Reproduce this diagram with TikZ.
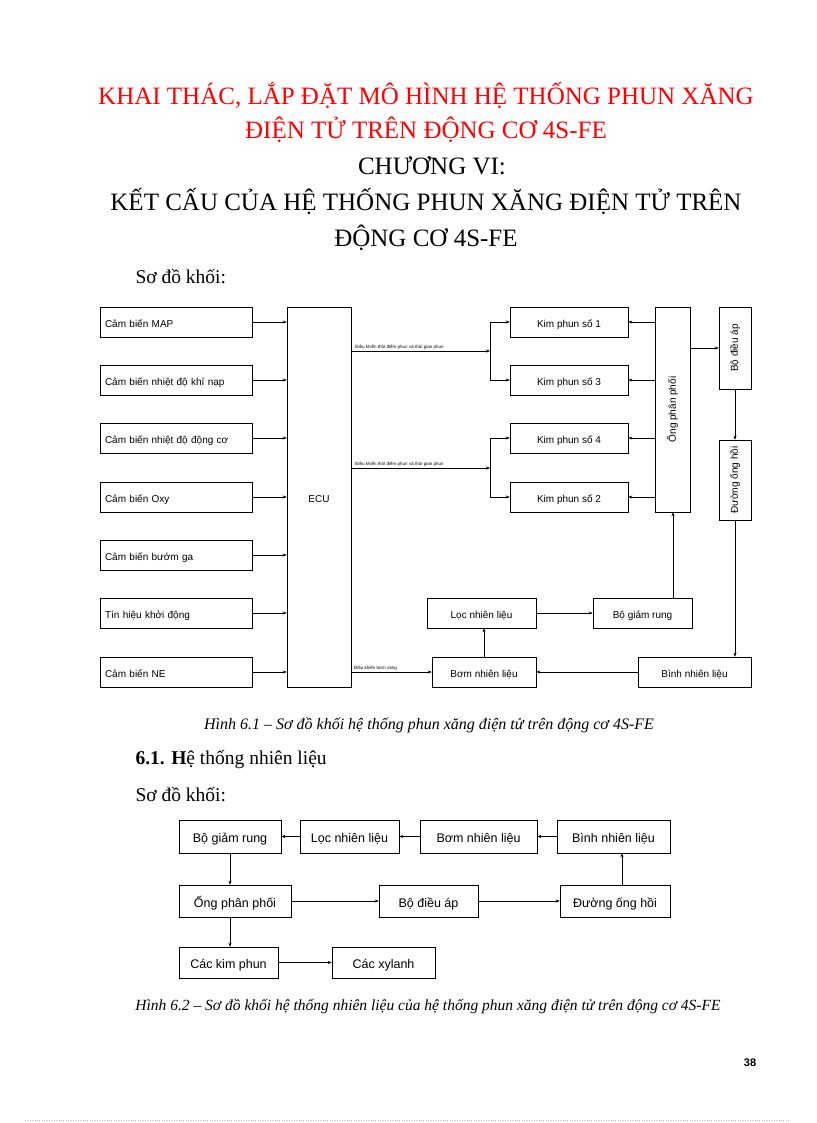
\documentclass[tikz,border=0pt]{standalone}
\usepackage{fontspec}
\setmainfont{Liberation Serif}
\newfontfamily\dia{Liberation Sans}
\usetikzlibrary{arrows.meta}
\begin{document}
\begin{tikzpicture}[x=1pt,y=-1pt,
  bx/.style={draw,line width=0.6pt,inner sep=0pt,text height=10pt,text depth=0pt,font=\dia\fontsize{10}{11}\selectfont},
  bv/.style={draw,line width=0.6pt,inner sep=0pt,font=\dia\fontsize{10}{11}\selectfont},
  bb/.style={draw,line width=0.6pt,inner sep=0pt,text height=12pt,text depth=0pt,font=\dia\fontsize{12.5}{14}\selectfont},
  ar/.style={-{Stealth[length=4pt,width=3pt]},line width=0.4pt},
  lab/.style={font=\dia\fontsize{4.5}{5}\selectfont,inner sep=1pt,anchor=south west}]
\useasboundingbox (0,0) rectangle (816,1123);
% headings
\node[text=red,font=\fontsize{25}{28}\selectfont] (t1) at (426,95) {KHAI THÁC, LẮP ĐẶT MÔ HÌNH HỆ THỐNG PHUN XĂNG};
\node[text=red,font=\fontsize{25}{28}\selectfont] (t2) at (426,130) {ĐIỆN TỬ TRÊN ĐỘNG CƠ 4S-FE};
\node[font=\fontsize{25}{28}\selectfont] (t3) at (432,166) {CHƯƠNG VI:};
\node[font=\fontsize{25}{28}\selectfont] (t4) at (426,201) {KẾT CẤU CỦA HỆ THỐNG PHUN XĂNG ĐIỆN TỬ TRÊN};
\node[font=\fontsize{25}{28}\selectfont] (t5) at (426,238) {ĐỘNG CƠ 4S-FE};
\node[anchor=west,font=\fontsize{19.5}{22}\selectfont] (s1) at (132,277) {Sơ đồ khối:};
% left sensors
\foreach \n/\y/\t in {a/322/Cảm biến MAP, b/380/Cảm biến nhiệt độ khí nạp, c/438/Cảm biến nhiệt độ động cơ, d/497/Cảm biến Oxy, e/555/Cảm biến bướm ga, f/613/Tín hiệu khởi động, g/672/Cảm biến NE}
  \node[bx,minimum width=152,minimum height=30,text width=142,align=left] (\n) at (176,\y) {\t};
\node[bx,minimum width=64,minimum height=380] (ecu) at (319,497) {ECU};
\foreach \n in {a,b,c,d,e,f,g} \draw[ar] (\n.east) -- (\n.east -| ecu.west);
% injectors
\foreach \n/\y/\t in {k1/322/Kim phun số 1, k3/380/Kim phun số 3, k4/438/Kim phun số 4, k2/497/Kim phun số 2}
  \node[bx,minimum width=118,minimum height=30] (\n) at (569,\y) {\t};
\node[bv,minimum width=35,minimum height=205] (ong) at (672.5,409.5) {\rotatebox{90}{Ống phân phối}};
\node[bv,minimum width=32,minimum height=82] (dieu) at (735,348) {\rotatebox{90}{Bộ điều áp}};
\node[bv,minimum width=32,minimum height=80] (hoi) at (735,480) {\rotatebox{90}{Đường ống hồi}};
\node[bx,minimum width=109,minimum height=30] (loc) at (481.5,613) {Lọc nhiên liệu};
\node[bx,minimum width=99,minimum height=30] (giam) at (642.5,613) {Bộ giảm rung};
\node[bx,minimum width=104,minimum height=30] (bom) at (484,672) {Bơm nhiên liệu};
\node[bx,minimum width=113,minimum height=30] (binh) at (694.5,672) {Bình nhiên liệu};
\coordinate (j1) at (490,351);
\coordinate (j2) at (490,468);
\draw[ar] (ecu.east |- j1) -- node[lab,pos=0.02]{Điều khiển thời điểm phun và thời gian phun} (j1);
\draw[ar] (j1) |- (k1.west);
\draw[ar] (j1) |- (k3.west);
\draw[ar] (ecu.east |- j2) -- node[lab,pos=0.02]{Điều khiển thời điểm phun và thời gian phun} (j2);
\draw[ar] (j2) |- (k4.west);
\draw[ar] (j2) |- (k2.west);
\draw[ar] (ecu.east |- bom.west) -- node[lab,pos=0.02]{Điều khiển bơm xăng} (bom.west);
\foreach \n in {k1,k3,k4,k2} \draw[ar] (\n.east -| ong.west) -- (\n.east);
\draw[ar] (ong.east |- dieu.west) -- (dieu.west);
\draw[ar] (dieu.south) -- (hoi.north);
\draw[ar] (hoi.south) -- (hoi.south |- binh.north);
\draw[ar] (binh.west) -- (bom.east);
\draw[ar] (bom.north) -- (bom.north |- loc.south);
\draw[ar] (loc.east) -- (giam.west);
\draw[ar] (giam.north -| 673,0) -- (ong.south -| 673,0);
\node[font=\itshape\fontsize{16}{18}\selectfont] (c1) at (429,725) {Hình 6.1 – Sơ đồ khối hệ thống phun xăng điện tử trên động cơ 4S-FE};
\node[anchor=west,font=\fontsize{19.5}{22}\selectfont] (h61) at (132,760) {\textbf{6.1. H}ệ thống nhiên liệu};
\node[anchor=west,font=\fontsize{19.5}{22}\selectfont] (s2) at (132,795) {Sơ đồ khối:};
% second diagram
\node[bb,minimum width=102,minimum height=33] (B1) at (230,836.5) {Bộ giảm rung};
\node[bb,minimum width=99,minimum height=33] (B2) at (349.5,836.5) {Lọc nhiên liệu};
\node[bb,minimum width=117,minimum height=33] (B3) at (478.5,836.5) {Bơm nhiên liệu};
\node[bb,minimum width=113,minimum height=33] (B4) at (613.5,836.5) {Bình nhiên liệu};
\node[bb,minimum width=112,minimum height=32] (B5) at (235,901) {Ống phân phối};
\node[bb,minimum width=99,minimum height=32] (B6) at (428.5,901) {Bộ điều áp};
\node[bb,minimum width=110,minimum height=32] (B7) at (615,901) {Đường ống hồi};
\node[bb,minimum width=99,minimum height=31] (B8) at (228.5,962.5) {Các kim phun};
\node[bb,minimum width=103,minimum height=31] (B9) at (383.5,962.5) {Các xylanh};
\draw[ar] (B4) -- (B3);
\draw[ar] (B3) -- (B2);
\draw[ar] (B2) -- (B1);
\draw[ar] (B1.south) -- (B1.south |- B5.north);
\draw[ar] (B5) -- (B6);
\draw[ar] (B6) -- (B7);
\draw[ar] (B7.north -| 622,0) -- (B4.south -| 622,0);
\draw[ar] (B5.south -| B1.south) -- (B8.north -| B1.south);
\draw[ar] (B8) -- (B9);
\node[font=\itshape\fontsize{15.5}{18}\selectfont] (c2) at (428,1007) {Hình 6.2 – Sơ đồ khối hệ thống nhiên liệu của hệ thống phun xăng điện tử trên động cơ 4S-FE};
\node[font=\dia\bfseries\fontsize{11}{12}\selectfont] (pg) at (750,1063) {38};
\draw[dotted,gray!50] (25,1120) -- (790,1120);
\end{tikzpicture}
\end{document}
